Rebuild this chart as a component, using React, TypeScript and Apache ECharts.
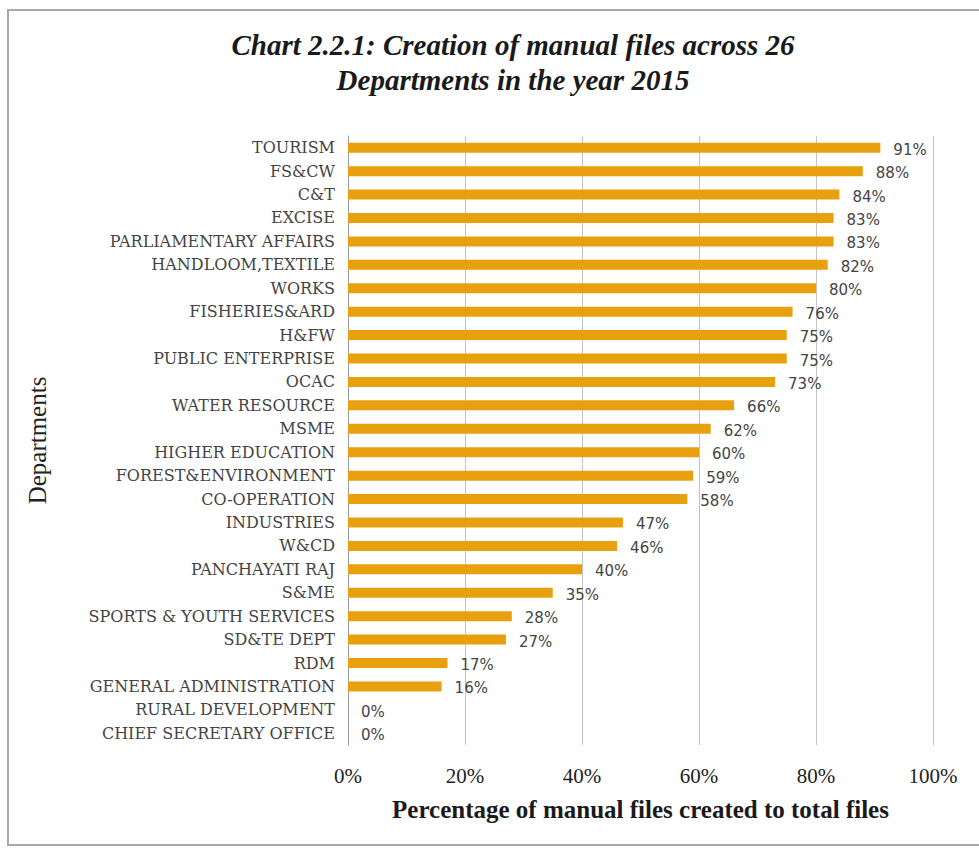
import React, { useEffect, useRef } from "react";
import * as echarts from "echarts";

const departments = [
  "TOURISM", "FS&CW", "C&T", "EXCISE", "PARLIAMENTARY AFFAIRS", "HANDLOOM,TEXTILE",
  "WORKS", "FISHERIES&ARD", "H&FW", "PUBLIC ENTERPRISE", "OCAC", "WATER RESOURCE",
  "MSME", "HIGHER EDUCATION", "FOREST&ENVIRONMENT", "CO-OPERATION", "INDUSTRIES",
  "W&CD", "PANCHAYATI RAJ", "S&ME", "SPORTS & YOUTH SERVICES", "SD&TE DEPT", "RDM",
  "GENERAL ADMINISTRATION", "RURAL DEVELOPMENT", "CHIEF SECRETARY OFFICE",
];
const manualPct = [
  91, 88, 84, 83, 83, 82, 80, 76, 75, 75, 73, 66, 62, 60, 59, 58, 47, 46, 40, 35,
  28, 27, 17, 16, 0, 0,
];
const titleText = "Chart 2.2.1: Creation of manual files across 26\nDepartments in the year 2015";
const xAxisName = "Percentage of manual files created to total files";
const yAxisName = "Departments";

export default function App() {
  const ref = useRef<HTMLDivElement>(null);
  useEffect(() => {
    if (!ref.current) return;
    const chart = echarts.init(ref.current, undefined, { renderer: "svg" });
    chart.setOption({
      animation: false,
      backgroundColor: "#ffffff",
      title: {
        text: titleText,
        left: 508,
        top: 22,
        textAlign: "center",
        textStyle: {
          fontFamily: "Liberation Serif",
          fontStyle: "italic",
          fontWeight: "bold",
          fontSize: 29,
          lineHeight: 35,
          color: "#1a1a1a",
        },
      },
      graphic: [
        {
          type: "rect",
          shape: { x: 8, y: 10, width: 990, height: 835 },
          style: { fill: "none", stroke: "#a8a8a8", lineWidth: 2 },
          silent: true,
        },
      ],
      grid: { left: 348, right: 46, top: 136, bottom: 103, containLabel: false },
      xAxis: {
        type: "value",
        min: 0,
        max: 100,
        interval: 20,
        name: xAxisName,
        nameLocation: "middle",
        nameGap: 52,
        nameTextStyle: {
          fontFamily: "Liberation Serif",
          fontWeight: "bold",
          fontSize: 25,
          color: "#1a1a1a",
        },
        axisLine: { show: false },
        axisTick: { show: false },
        axisLabel: {
          formatter: "{value}%",
          margin: 20,
          fontFamily: "Liberation Serif",
          fontSize: 21,
          color: "#222",
        },
        splitLine: { show: true, lineStyle: { color: "#c4c4c4", width: 1 } },
      },
      yAxis: {
        type: "category",
        inverse: true,
        data: departments,
        name: yAxisName,
        nameLocation: "middle",
        nameGap: 298,
        nameTextStyle: {
          fontFamily: "Liberation Serif",
          fontSize: 25,
          color: "#222",
        },
        axisLine: { show: true, lineStyle: { color: "#9a9a9a", width: 1 } },
        axisTick: { show: false },
        axisLabel: {
          margin: 13,
          fontFamily: "DejaVu Serif",
          fontSize: 16,
          color: "#444",
          interval: 0,
        },
      },
      series: [
        {
          type: "bar",
          data: manualPct,
          barWidth: 10,
          itemStyle: { color: "#E9A00E" },
          label: {
            show: true,
            position: "right",
            distance: 13,
            formatter: "{c}%",
            fontFamily: "DejaVu Sans",
            fontSize: 15,
            color: "#444",
            offset: [0, 2],
          },
        },
      ],
    });
    return () => chart.dispose();
  }, []);
  return (
    <div
      ref={ref}
      style={{ position: "absolute", left: 0, top: 0, width: 979, height: 848 }}
    />
  );
}
